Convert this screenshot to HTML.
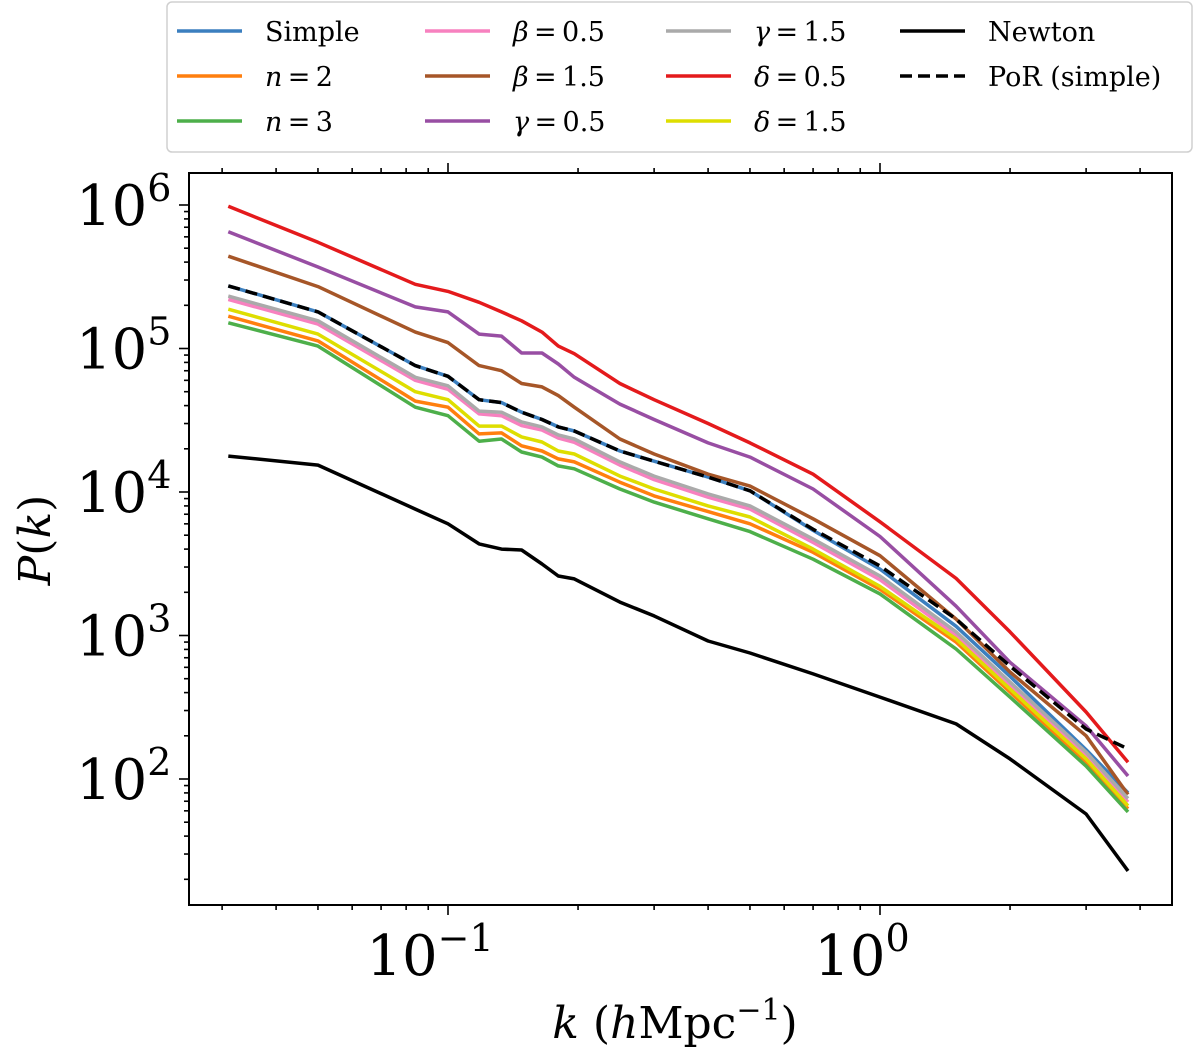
<!DOCTYPE html>
<html><head><meta charset="utf-8"><style>
html,body{margin:0;padding:0;background:#fff;}
svg{display:block;font-family:"DejaVu Serif","Liberation Serif",serif;}
</style></head>
<body>
<svg id="chart" width="1200" height="1055" viewBox="0 0 1200 1055" xmlns="http://www.w3.org/2000/svg">
<g id="plot"></g>
<g id="axes"></g>
<g id="legend"></g>
<text x="675" y="1038" font-size="44" text-anchor="middle"><tspan font-style="italic">k</tspan> (<tspan font-style="italic">h</tspan>Mpc<tspan dy="-18" font-size="30">−1</tspan><tspan dy="18">)</tspan></text>
<text transform="translate(50,540) rotate(-90)" font-size="44" text-anchor="middle"><tspan font-style="italic">P</tspan>(<tspan font-style="italic">k</tspan>)</text>
</svg>
<script>
const kValues=[0.031,0.05,0.084,0.10,0.118,0.133,0.148,0.165,0.18,0.196,0.25,0.3,0.4,0.5,0.7,1.0,1.5,2,3,3.75];
const pSimple=[2.73e5,1.8e5,7.6e4,6.4e4,4.4e4,4.2e4,3.6e4,3.2e4,2.84e4,2.66e4,1.93e4,1.64e4,1.27e4,1.02e4,5.4e3,2.9e3,1.16e3,520,160,80];
const pN2=[1.68e5,1.13e5,4.3e4,3.9e4,2.54e4,2.58e4,2.1e4,1.93e4,1.7e4,1.62e4,1.17e4,9.4e3,7.3e3,6.0e3,3.8e3,2.1e3,900,404,131,62];
const pN3=[1.51e5,1.04e5,3.9e4,3.4e4,2.26e4,2.34e4,1.9e4,1.75e4,1.52e4,1.45e4,1.05e4,8.5e3,6.5e3,5.3e3,3.4e3,1.95e3,805,372,123,59];
const pBeta05=[2.2e5,1.48e5,6.0e4,5.2e4,3.5e4,3.4e4,2.9e4,2.7e4,2.38e4,2.22e4,1.54e4,1.22e4,9.2e3,7.6e3,4.45e3,2.45e3,1.0e3,450,146,69];
const pBeta15=[4.4e5,2.7e5,1.3e5,1.1e5,7.6e4,7.0e4,5.7e4,5.4e4,4.7e4,3.9e4,2.34e4,1.84e4,1.33e4,1.1e4,6.5e3,3.6e3,1.3e3,557,200,78];
const pGamma05=[6.5e5,3.7e5,1.95e5,1.8e5,1.26e5,1.22e5,9.3e4,9.3e4,7.8e4,6.3e4,4.1e4,3.2e4,2.2e4,1.75e4,1.05e4,4.9e3,1.6e3,650,234,105];
const pGamma15=[2.32e5,1.56e5,6.3e4,5.5e4,3.66e4,3.6e4,3.08e4,2.84e4,2.5e4,2.34e4,1.62e4,1.29e4,9.7e3,8.0e3,4.7e3,2.6e3,1.06e3,474,154,73];
const pDelta05=[9.8e5,5.5e5,2.8e5,2.5e5,2.1e5,1.8e5,1.56e5,1.3e5,1.04e5,9.2e4,5.7e4,4.4e4,3.0e4,2.2e4,1.33e4,6.2e3,2.5e3,1.06e3,293,131];
const pDelta15=[1.88e5,1.26e5,5.0e4,4.4e4,2.88e4,2.88e4,2.42e4,2.23e4,1.93e4,1.84e4,1.29e4,1.05e4,8.0e3,6.7e3,4.0e3,2.2e3,946,424,138,65];
const pNewton=[1.78e4,1.54e4,7.6e3,6.0e3,4.35e3,4.0e3,3.94e3,3.15e3,2.6e3,2.48e3,1.71e3,1.37e3,916,755,540,372,242,138,57,22.9];
const pPoR=[2.73e5,1.8e5,7.6e4,6.4e4,4.4e4,4.2e4,3.6e4,3.2e4,2.84e4,2.66e4,1.93e4,1.64e4,1.27e4,1.02e4,5.5e3,3.05e3,1.3e3,612,223,162];
const xTickLabels=["10","10"];const xTickExps=["−1","0"];const xTickVals=[0.1,1];
const yTickVals=[100,1e3,1e4,1e5,1e6];const yTickExps=["2","3","4","5","6"];

const NS="http://www.w3.org/2000/svg";
const L=189,R=1172,T=173,B=905;
function X(k){return 448+432*(Math.log10(k)+1);}
function Y(p){return 779-143.5*(Math.log10(p)-2);}
function mk(tag,attrs,parent){const e=document.createElementNS(NS,tag);for(const a in attrs)e.setAttribute(a,attrs[a]);parent.appendChild(e);return e;}
const plot=document.getElementById('plot'),axes=document.getElementById('axes'),leg=document.getElementById('legend');

const series=[
 {name:'simple',data:pSimple,color:'#3b7fbf'},
 {name:'n2',data:pN2,color:'#ff7f0e'},
 {name:'n3',data:pN3,color:'#4daf4a'},
 {name:'beta-0-5',data:pBeta05,color:'#f781bf'},
 {name:'beta-1-5',data:pBeta15,color:'#a65628'},
 {name:'gamma-0-5',data:pGamma05,color:'#984ea3'},
 {name:'gamma-1-5',data:pGamma15,color:'#aaaaaa'},
 {name:'delta-0-5',data:pDelta05,color:'#e41a1c'},
 {name:'delta-1-5',data:pDelta15,color:'#dede00'},
 {name:'newton',data:pNewton,color:'#000000'},
 {name:'por-simple',data:pPoR,color:'#000000',dash:'12 6'}
];
series.forEach(s=>{
 const d=s.data.map((v,i)=>(i?'L':'M')+X(kValues[i]).toFixed(1)+','+Y(v).toFixed(1)).join('');
 const p=mk('path',{d:d,fill:'none',stroke:s.color,'stroke-width':3.5,'stroke-linejoin':'round'},plot);
 if(s.dash)p.setAttribute('stroke-dasharray',s.dash);
 
 
});

const fr=mk('rect',{x:L,y:T,width:R-L,height:B-T,fill:'none',stroke:'#000','stroke-width':2},axes);


for(let dec=-2;dec<=0;dec++){for(let m=1;m<10;m++){const k=m*Math.pow(10,dec);const x=X(k);if(x<L||x>R)continue;const len=m===1?10:5;
 const t1=mk('line',{x1:x,x2:x,y1:B,y2:B+len,stroke:'#000','stroke-width':1.6},axes);
 
 
 const t2=mk('line',{x1:x,x2:x,y1:T,y2:T-len,stroke:'#000','stroke-width':1.6},axes);
 
 }}
xTickVals.forEach((v,i)=>{const t=mk('text',{x:X(v)-18,y:975,'font-size':56,'text-anchor':'middle'},axes);
 t.innerHTML=xTickLabels[i]+'<tspan dy="-24" font-size="38">'+xTickExps[i]+'</tspan>';
 
 });
for(let dec=1;dec<=6;dec++){for(let m=1;m<10;m++){const p=m*Math.pow(10,dec);const y=Y(p);if(y<T||y>B)continue;const len=m===1?10:5;
 const t1=mk('line',{x1:L,x2:L-len,y1:y,y2:y,stroke:'#000','stroke-width':1.6},axes);
 
 }}
yTickVals.forEach((v,i)=>{const t=mk('text',{x:76,y:Y(v)+20,'font-size':56},axes);
 t.innerHTML='10<tspan dy="-24" font-size="38">'+yTickExps[i]+'</tspan>';
 
 });

const lb=mk('rect',{x:167,y:2,width:1025,height:150,rx:5,fill:'#fff',stroke:'#d0d0d0','stroke-width':1.5},leg);


const entries=[
 [0,0,'#3b7fbf','Simple',null,'legend-simple'],
 [0,1,'#ff7f0e','<tspan font-style="italic">n</tspan>\u2009=\u20092',null,'legend-n2'],
 [0,2,'#4daf4a','<tspan font-style="italic">n</tspan>\u2009=\u20093',null,'legend-n3'],
 [1,0,'#f781bf','<tspan font-style="italic">β</tspan>\u2009=\u20090.5',null,'legend-beta-0-5'],
 [1,1,'#a65628','<tspan font-style="italic">β</tspan>\u2009=\u20091.5',null,'legend-beta-1-5'],
 [1,2,'#984ea3','<tspan font-style="italic">γ</tspan>\u2009=\u20090.5',null,'legend-gamma-0-5'],
 [2,0,'#aaaaaa','<tspan font-style="italic">γ</tspan>\u2009=\u20091.5',null,'legend-gamma-1-5'],
 [2,1,'#e41a1c','<tspan font-style="italic">δ</tspan>\u2009=\u20090.5',null,'legend-delta-0-5'],
 [2,2,'#dede00','<tspan font-style="italic">δ</tspan>\u2009=\u20091.5',null,'legend-delta-1-5'],
 [3,0,'#000','Newton',null,'legend-newton'],
 [3,1,'#000','PoR (simple)','12 6','legend-por-simple']
];
const colX=[177,425,666,900];const rowY=[31,76,121];
entries.forEach(e=>{const g=mk('g',{},leg);
 
 
 const x=colX[e[0]],y=rowY[e[1]];
 const ln=mk('line',{x1:x,x2:x+65,y1:y,y2:y,stroke:e[2],'stroke-width':3.5},g);
 if(e[4])ln.setAttribute('stroke-dasharray',e[4]);
 const t=mk('text',{x:x+88,y:y+10,'font-size':27},g);t.innerHTML=e[3];});
</script>
</body></html>
